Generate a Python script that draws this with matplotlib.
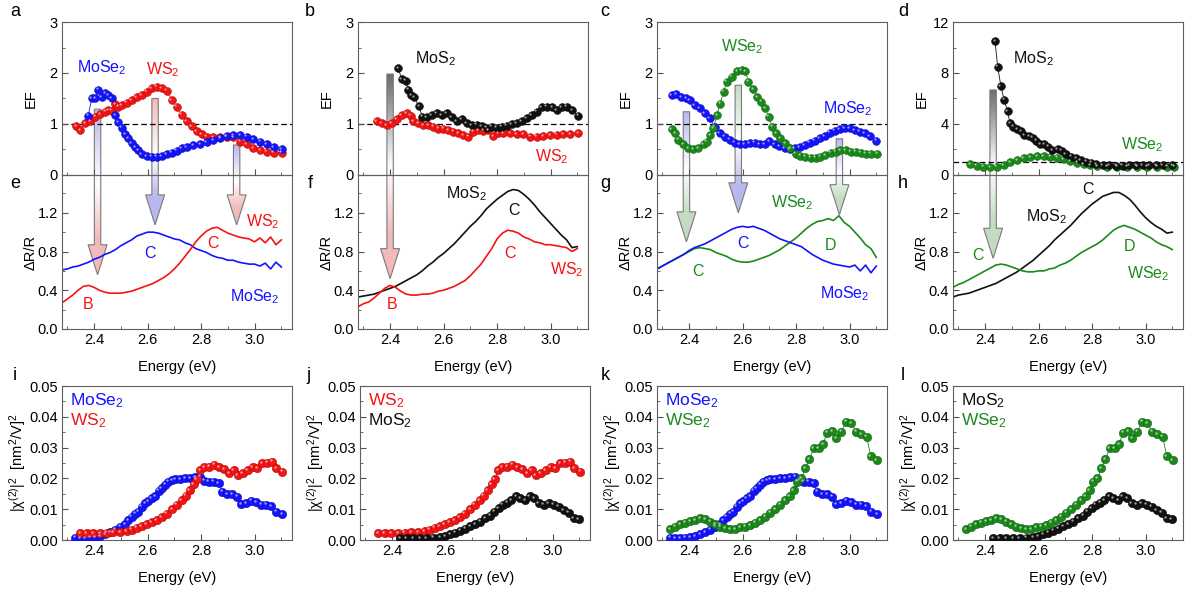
import numpy as np
import matplotlib
matplotlib.use('Agg')
import matplotlib.pyplot as plt
from matplotlib.patches import Polygon
from matplotlib.colors import LinearSegmentedColormap, to_rgb
from matplotlib.ticker import MultipleLocator, FormatStrFormatter
from matplotlib import transforms

plt.rcParams.update({
    'font.family': 'Liberation Sans',
    'mathtext.fontset': 'custom',
    'mathtext.rm': 'Liberation Sans',
    'mathtext.it': 'Liberation Sans:italic',
    'mathtext.default': 'regular',
})

# ---------------- data ----------------
# reflectance spectra share one energy grid
E_REFL = [2.28, 2.30, 2.32, 2.34, 2.36, 2.38, 2.40, 2.42, 2.44, 2.46,
          2.48, 2.50, 2.52, 2.54, 2.56, 2.58, 2.60, 2.62, 2.64, 2.66,
          2.68, 2.70, 2.72, 2.74, 2.76, 2.78, 2.80, 2.82, 2.84, 2.86,
          2.88, 2.90, 2.92, 2.94, 2.96, 2.98, 3.00, 3.02, 3.04, 3.06,
          3.08, 3.10]

dr_e_mose2 = [0.61, 0.62, 0.64, 0.65, 0.67, 0.69, 0.72, 0.74, 0.77, 0.79,
              0.82, 0.86, 0.89, 0.92, 0.96, 0.98, 1.00, 1.00, 0.99, 0.97,
              0.95, 0.93, 0.92, 0.89, 0.87, 0.83, 0.81, 0.79, 0.76, 0.74,
              0.73, 0.71, 0.71, 0.69, 0.68, 0.67, 0.67, 0.65, 0.68, 0.62,
              0.69, 0.64]
dr_e_ws2 = [0.27, 0.31, 0.35, 0.40, 0.44, 0.45, 0.43, 0.40, 0.38, 0.37,
            0.37, 0.37, 0.38, 0.39, 0.41, 0.43, 0.45, 0.47, 0.50, 0.53,
            0.57, 0.62, 0.68, 0.75, 0.82, 0.90, 0.96, 1.01, 1.04, 1.05,
            1.02, 0.99, 0.97, 0.95, 0.94, 0.93, 0.90, 0.94, 0.89, 0.95,
            0.87, 0.92]
dr_f_mos2 = [0.33, 0.34, 0.35, 0.36, 0.38, 0.40, 0.42, 0.44, 0.47, 0.50,
             0.53, 0.56, 0.60, 0.65, 0.69, 0.74, 0.78, 0.83, 0.88, 0.94,
             1.00, 1.06, 1.11, 1.17, 1.24, 1.29, 1.34, 1.38, 1.42, 1.44,
             1.43, 1.39, 1.34, 1.28, 1.21, 1.15, 1.09, 1.03, 0.97, 0.92,
             0.84, 0.85]
dr_f_ws2 = [0.23, 0.26, 0.28, 0.32, 0.37, 0.42, 0.45, 0.43, 0.39, 0.36,
            0.35, 0.35, 0.36, 0.36, 0.37, 0.39, 0.40, 0.42, 0.44, 0.47,
            0.50, 0.55, 0.61, 0.67, 0.75, 0.83, 0.93, 0.99, 1.02, 1.01,
            0.99, 0.95, 0.93, 0.90, 0.89, 0.87, 0.87, 0.86, 0.85, 0.84,
            0.80, 0.83]
dr_g_mose2 = [0.62, 0.65, 0.68, 0.71, 0.74, 0.77, 0.81, 0.84, 0.86, 0.88,
              0.91, 0.94, 0.97, 1.00, 1.03, 1.05, 1.06, 1.05, 1.06, 1.04,
              1.02, 0.99, 0.96, 0.93, 0.91, 0.89, 0.87, 0.85, 0.81, 0.77,
              0.74, 0.71, 0.69, 0.67, 0.66, 0.65, 0.64, 0.66, 0.60, 0.66,
              0.58, 0.65]
dr_g_wse2 = [0.62, 0.65, 0.68, 0.71, 0.74, 0.77, 0.80, 0.83, 0.84, 0.83,
             0.82, 0.79, 0.77, 0.75, 0.72, 0.70, 0.69, 0.69, 0.70, 0.72,
             0.74, 0.76, 0.79, 0.82, 0.86, 0.90, 0.94, 0.99, 1.04, 1.08,
             1.11, 1.12, 1.14, 1.12, 1.17, 1.10, 1.06, 1.00, 0.94, 0.87,
             0.83, 0.74]
dr_h_mos2 = [0.33, 0.35, 0.36, 0.37, 0.39, 0.41, 0.43, 0.45, 0.47, 0.50,
             0.53, 0.56, 0.59, 0.63, 0.67, 0.71, 0.76, 0.81, 0.86, 0.92,
             0.97, 1.02, 1.07, 1.13, 1.19, 1.24, 1.29, 1.33, 1.37, 1.39,
             1.41, 1.41, 1.38, 1.34, 1.28, 1.21, 1.15, 1.10, 1.06, 1.03,
             0.99, 1.00]
dr_h_wse2 = [0.43, 0.46, 0.48, 0.51, 0.54, 0.57, 0.60, 0.63, 0.66, 0.67,
             0.66, 0.64, 0.62, 0.60, 0.59, 0.59, 0.60, 0.60, 0.62, 0.63,
             0.66, 0.68, 0.71, 0.75, 0.79, 0.82, 0.85, 0.88, 0.92, 0.97,
             1.02, 1.05, 1.07, 1.05, 1.03, 1.00, 0.97, 0.94, 0.90, 0.87,
             0.85, 0.82]

# enhancement factors
ef_a_mose2_x = [2.378, 2.391, 2.403, 2.416, 2.428, 2.441, 2.453, 2.466, 2.478, 2.491,
                2.503, 2.516, 2.528, 2.541, 2.553, 2.566, 2.578, 2.597, 2.615, 2.634,
                2.653, 2.672, 2.690, 2.709, 2.728, 2.746, 2.771, 2.796, 2.821, 2.846,
                2.871, 2.896, 2.921, 2.946, 2.971, 2.995, 3.020, 3.046, 3.071, 3.102]
ef_a_mose2 = [1.16, 1.50, 1.51, 1.67, 1.52, 1.60, 1.56, 1.50, 1.17, 1.03,
              0.93, 0.80, 0.72, 0.62, 0.55, 0.49, 0.41, 0.37, 0.36, 0.36,
              0.37, 0.41, 0.44, 0.48, 0.52, 0.55, 0.58, 0.61, 0.64, 0.68,
              0.72, 0.76, 0.78, 0.78, 0.75, 0.70, 0.65, 0.60, 0.55, 0.50]
ef_a_ws2_x = [2.332, 2.347, 2.366, 2.385, 2.403, 2.422, 2.441, 2.453, 2.466, 2.478,
              2.491, 2.503, 2.522, 2.541, 2.559, 2.578, 2.597, 2.615, 2.634, 2.653,
              2.672, 2.690, 2.709, 2.728, 2.746, 2.765, 2.784, 2.802, 2.821, 2.846,
              2.871, 2.896, 2.921, 2.946, 2.971, 2.995, 3.020, 3.046, 3.071, 3.102]
ef_a_ws2 = [0.96, 0.88, 1.01, 1.06, 1.14, 1.19, 1.24, 1.27, 1.26, 1.39,
            1.34, 1.37, 1.42, 1.47, 1.52, 1.57, 1.63, 1.70, 1.73, 1.70,
            1.65, 1.47, 1.34, 1.18, 1.06, 0.96, 0.86, 0.80, 0.75, 0.74,
            0.74, 0.75, 0.74, 0.65, 0.60, 0.53, 0.49, 0.46, 0.44, 0.44]

ef_b_mos2_x = [2.431, 2.443, 2.458, 2.468, 2.480, 2.490, 2.508, 2.520, 2.537, 2.555,
               2.574, 2.593, 2.611, 2.630, 2.649, 2.668, 2.686, 2.705, 2.724, 2.742,
               2.761, 2.780, 2.798, 2.817, 2.836, 2.855, 2.874, 2.892, 2.911, 2.930,
               2.948, 2.967, 2.986, 3.005, 3.023, 3.042, 3.061, 3.080, 3.104]
ef_b_mos2 = [2.09, 1.88, 1.85, 1.67, 1.57, 1.52, 1.35, 1.14, 1.13, 1.17,
             1.21, 1.17, 1.21, 1.13, 1.06, 1.09, 1.02, 0.98, 0.99, 0.96,
             0.93, 0.95, 0.93, 0.95, 0.97, 1.00, 1.02, 1.06, 1.11, 1.17,
             1.24, 1.33, 1.34, 1.33, 1.27, 1.33, 1.34, 1.27, 1.16]
ef_b_ws2_x = [2.350, 2.369, 2.387, 2.406, 2.424, 2.443, 2.462, 2.477, 2.487, 2.506,
              2.524, 2.543, 2.562, 2.580, 2.599, 2.618, 2.637, 2.655, 2.674, 2.693,
              2.711, 2.730, 2.749, 2.767, 2.786, 2.805, 2.823, 2.848, 2.874, 2.898,
              2.923, 2.948, 2.973, 2.998, 3.023, 3.048, 3.073, 3.104]
ef_b_ws2 = [1.06, 1.02, 0.98, 1.01, 1.09, 1.17, 1.21, 1.16, 1.06, 1.01,
            0.98, 0.98, 0.95, 0.91, 0.91, 0.88, 0.85, 0.82, 0.78, 0.75,
            0.85, 0.88, 0.87, 0.88, 0.76, 0.82, 0.82, 0.82, 0.80, 0.80,
            0.75, 0.75, 0.76, 0.78, 0.79, 0.80, 0.80, 0.82]

ef_c_mose2_x = [2.335, 2.352, 2.371, 2.390, 2.402, 2.421, 2.440, 2.458, 2.477, 2.496,
                2.514, 2.533, 2.552, 2.570, 2.589, 2.608, 2.626, 2.645, 2.664, 2.682,
                2.700, 2.720, 2.738, 2.757, 2.776, 2.795, 2.813, 2.832, 2.851, 2.870,
                2.888, 2.907, 2.926, 2.944, 2.963, 2.982, 3.000, 3.019, 3.038, 3.056,
                3.075, 3.100]
ef_c_mose2 = [1.57, 1.58, 1.53, 1.51, 1.47, 1.37, 1.31, 1.21, 1.11, 0.95,
              0.82, 0.75, 0.69, 0.63, 0.61, 0.61, 0.62, 0.63, 0.61, 0.61,
              0.66, 0.61, 0.57, 0.52, 0.50, 0.52, 0.55, 0.59, 0.63, 0.67,
              0.72, 0.76, 0.83, 0.87, 0.90, 0.92, 0.92, 0.88, 0.85, 0.82,
              0.76, 0.67]
ef_c_wse2_x = [2.335, 2.347, 2.360, 2.379, 2.397, 2.416, 2.435, 2.454, 2.466, 2.479,
               2.491, 2.504, 2.516, 2.529, 2.541, 2.560, 2.579, 2.597, 2.610, 2.622,
               2.639, 2.654, 2.669, 2.685, 2.698, 2.710, 2.725, 2.741, 2.760, 2.779,
               2.798, 2.816, 2.835, 2.854, 2.873, 2.891, 2.910, 2.929, 2.948, 2.966,
               2.985, 3.004, 3.023, 3.041, 3.060, 3.079, 3.104]
ef_c_wse2 = [0.90, 0.82, 0.69, 0.61, 0.53, 0.51, 0.53, 0.61, 0.65, 0.78,
             0.92, 1.17, 1.40, 1.63, 1.83, 1.93, 2.03, 2.06, 2.04, 1.83,
             1.68, 1.53, 1.44, 1.31, 1.14, 0.95, 0.82, 0.72, 0.62, 0.52,
             0.42, 0.38, 0.36, 0.34, 0.34, 0.36, 0.39, 0.44, 0.46, 0.49,
             0.49, 0.46, 0.46, 0.44, 0.42, 0.42, 0.42]

ef_d_mos2_x = [2.437, 2.447, 2.459, 2.471, 2.484, 2.493, 2.505, 2.521, 2.534, 2.546,
               2.565, 2.578, 2.590, 2.605, 2.621, 2.637, 2.652, 2.671, 2.687, 2.702,
               2.721, 2.740, 2.758, 2.777, 2.796, 2.815, 2.840, 2.865, 2.890, 2.915,
               2.939, 2.964, 2.989, 3.014, 3.039, 3.064, 3.100]
ef_d_mos2 = [10.5, 8.5, 6.98, 5.9, 5.02, 4.05, 3.8, 3.58, 3.45, 3.13,
             3.06, 2.92, 2.69, 2.43, 2.43, 2.22, 1.96, 2.01, 1.90, 1.65,
             1.44, 1.31, 1.18, 1.05, 0.97, 0.86, 0.78, 0.78, 0.73, 0.73,
             0.78, 0.78, 0.78, 0.78, 0.78, 0.78, 0.78]
ef_d_wse2_x = [2.344, 2.369, 2.394, 2.419, 2.444, 2.470, 2.494, 2.519, 2.544, 2.569,
               2.594, 2.619, 2.644, 2.669, 2.694, 2.719, 2.744, 2.769, 2.794, 2.819,
               2.856, 2.894, 2.931, 2.968, 3.006, 3.043, 3.081, 3.106]
ef_d_wse2 = [0.86, 0.73, 0.65, 0.60, 0.65, 0.78, 0.99, 1.18, 1.31, 1.39,
             1.49, 1.49, 1.44, 1.36, 1.23, 1.10, 0.97, 0.86, 0.78, 0.71,
             0.65, 0.65, 0.65, 0.65, 0.65, 0.65, 0.65, 0.65]

# |chi(2)|^2 spectra
chi_mose2_x = [2.329, 2.347, 2.366, 2.385, 2.403, 2.422, 2.441, 2.460, 2.478, 2.497,
               2.516, 2.528, 2.541, 2.553, 2.566, 2.578, 2.591, 2.603, 2.616, 2.628,
               2.641, 2.653, 2.666, 2.678, 2.691, 2.703, 2.722, 2.741, 2.759, 2.778,
               2.797, 2.812, 2.828, 2.847, 2.866, 2.878, 2.897, 2.916, 2.934, 2.949,
               2.968, 2.987, 3.006, 3.024, 3.043, 3.062, 3.081, 3.103]
chi_mose2 = [0.0008, 0.0006, 0.0006, 0.0008, 0.0009, 0.0013, 0.0019, 0.0025, 0.0034, 0.0043,
             0.0052, 0.0065, 0.0076, 0.0086, 0.0092, 0.0108, 0.0119, 0.0126, 0.0135, 0.0143,
             0.0160, 0.0168, 0.0179, 0.0189, 0.0195, 0.0197, 0.0197, 0.0200, 0.0200, 0.0204,
             0.0206, 0.0193, 0.0189, 0.0189, 0.0184, 0.0157, 0.0149, 0.0148, 0.0140, 0.0117,
             0.0119, 0.0128, 0.0122, 0.0114, 0.0114, 0.0110, 0.0092, 0.0084]
chi_ws2_x = [2.347, 2.372, 2.397, 2.422, 2.447, 2.472, 2.497, 2.522, 2.541, 2.559,
             2.578, 2.597, 2.616, 2.634, 2.653, 2.672, 2.691, 2.709, 2.728, 2.743,
             2.757, 2.772, 2.784, 2.797, 2.812, 2.831, 2.849, 2.868, 2.887, 2.906,
             2.922, 2.937, 2.956, 2.974, 2.993, 3.010, 3.028, 3.047, 3.066, 3.082,
             3.103]
chi_ws2 = [0.0022, 0.0022, 0.0022, 0.0022, 0.0024, 0.0025, 0.0026, 0.0029, 0.0034, 0.0040,
           0.0045, 0.0052, 0.0057, 0.0065, 0.0074, 0.0086, 0.0100, 0.0114, 0.0130, 0.0144,
           0.0162, 0.0182, 0.0197, 0.0227, 0.0236, 0.0238, 0.0244, 0.0236, 0.0230, 0.0217,
           0.0227, 0.0211, 0.0217, 0.0227, 0.0236, 0.0233, 0.0249, 0.0251, 0.0254, 0.0233,
           0.0222]
chi_mos2_x = [2.430, 2.455, 2.480, 2.505, 2.530, 2.555, 2.580, 2.599, 2.618, 2.636,
              2.655, 2.674, 2.693, 2.711, 2.730, 2.749, 2.767, 2.782, 2.798, 2.813,
              2.830, 2.845, 2.863, 2.880, 2.898, 2.914, 2.932, 2.948, 2.967, 2.986,
              3.004, 3.023, 3.042, 3.060, 3.079, 3.098]
chi_mos2 = [0.0005, 0.0005, 0.0005, 0.0005, 0.0006, 0.0007, 0.0010, 0.0013, 0.0019, 0.0024,
            0.0030, 0.0037, 0.0045, 0.0052, 0.0060, 0.0070, 0.0079, 0.0092, 0.0103, 0.0114,
            0.0121, 0.0130, 0.0143, 0.0135, 0.0130, 0.0143, 0.0135, 0.0119, 0.0114, 0.0119,
            0.0114, 0.0108, 0.0097, 0.0089, 0.0070, 0.0067]
chi_wse2_x = [2.329, 2.347, 2.366, 2.385, 2.404, 2.422, 2.441, 2.460, 2.479, 2.497,
              2.516, 2.535, 2.554, 2.572, 2.591, 2.610, 2.629, 2.647, 2.666, 2.685,
              2.704, 2.722, 2.741, 2.760, 2.776, 2.791, 2.804, 2.820, 2.835, 2.850,
              2.866, 2.885, 2.901, 2.916, 2.935, 2.951, 2.969, 2.988, 3.006, 3.025,
              3.044, 3.064, 3.079, 3.101]
chi_wse2 = [0.0035, 0.0043, 0.0051, 0.0056, 0.0062, 0.0065, 0.0070, 0.0067, 0.0059, 0.0052,
            0.0043, 0.0038, 0.0036, 0.0035, 0.0041, 0.0043, 0.0049, 0.0056, 0.0065, 0.0076,
            0.0089, 0.0100, 0.0114, 0.0130, 0.0143, 0.0162, 0.0189, 0.0200, 0.0233, 0.0262,
            0.0298, 0.0298, 0.0312, 0.0348, 0.0354, 0.0330, 0.0352, 0.0384, 0.0379, 0.0352,
            0.0343, 0.0336, 0.0273, 0.0260]

BLUE = '#1414ff'
RED = '#f51414'
GREEN = '#1b8a1b'
BLACK = '#111111'
PALE_BLUE = '#b8b8ee'
PALE_RED = '#f2baba'
PALE_GREEN = '#c2dcc2'
GRAY = '#6a6a6a'

# ---------------- figure ----------------
W, H = 1190, 594
fig = plt.figure(figsize=(W / 100, H / 100), dpi=100)
fig.patch.set_facecolor('white')


def px_axes(left, top, width, height):
    ax = fig.add_axes([left / W, 1 - (top + height) / H, width / W, height / H], zorder=1)
    ax.set_facecolor('none')
    for s in ax.spines.values():
        s.set_color('#606060')
        s.set_linewidth(0.8)
    ax.tick_params(which='both', direction='in', color='#505050', labelsize=10.5, pad=3)
    ax.tick_params(which='major', length=4, width=0.8)
    ax.tick_params(which='minor', length=2, width=0.6)
    ax.set_xlim(2.28, 3.14)
    ax.xaxis.set_major_locator(MultipleLocator(0.2))
    ax.xaxis.set_minor_locator(MultipleLocator(0.1))
    ax.xaxis.set_major_formatter(FormatStrFormatter('%.1f'))
    return ax


def mix(c, other, t):
    a, b = np.array(to_rgb(c)), np.array(to_rgb(other))
    return tuple(a * (1 - t) + b * t)


def balls(ax, x, y, color, ms=5.6):
    # shaded spheres: solid disc plus a small offset highlight
    ax.plot(x, y, '-', color=color, lw=0.6, zorder=2)
    ax.plot(x, y, 'o', ms=ms, mfc=color, mec=mix(color, 'black', 0.3), mew=0.4, zorder=3)
    hl = transforms.offset_copy(ax.transData, fig=fig, x=-1.0, y=1.0, units='points')
    ax.plot(x, y, 'o', ms=ms * 0.28, mfc=mix(color, 'white', 0.6), mec='none',
            transform=hl, zorder=4)


lefts = [62, 358, 657, 953]
lefts_bot = [62, 360, 657, 953]
ax_ef = [px_axes(l, 22, 230, 153) for l in lefts]
ax_dr = [px_axes(l, 175, 230, 154) for l in lefts]
ax_chi = [px_axes(l, 386, 230, 154) for l in lefts_bot]

for i, ax in enumerate(ax_ef):
    ax.tick_params(labelbottom=False)
    if i < 3:
        ax.set_ylim(0, 3)
        ax.yaxis.set_major_locator(MultipleLocator(1))
        ax.yaxis.set_minor_locator(MultipleLocator(0.5))
    else:
        ax.set_ylim(0, 12)
        ax.yaxis.set_major_locator(MultipleLocator(4))
        ax.yaxis.set_minor_locator(MultipleLocator(2))
    ax.axhline(1, color='black', lw=0.9, dashes=(4.5, 2.5), zorder=1.5)
    ax.set_ylabel('EF', fontsize=10.5)
    ax.yaxis.set_label_coords(-0.105, 0.5)

for ax in ax_dr:
    ax.set_ylim(0, 1.59)
    ax.yaxis.set_major_locator(MultipleLocator(0.4))
    ax.yaxis.set_minor_locator(MultipleLocator(0.2))
    ax.yaxis.set_major_formatter(FormatStrFormatter('%.1f'))
    ax.set_ylabel('ΔR/R', fontsize=10.5)
    ax.yaxis.set_label_coords(-0.105, 0.5)
    ax.set_xlabel('Energy (eV)', fontsize=10.5)
    ax.xaxis.set_label_coords(0.5, -0.2)

for ax in ax_chi:
    ax.set_ylim(0, 0.05)
    ax.yaxis.set_major_locator(MultipleLocator(0.01))
    ax.yaxis.set_minor_locator(MultipleLocator(0.005))
    ax.yaxis.set_major_formatter(FormatStrFormatter('%.2f'))
    ax.set_ylabel(r'$|\chi^{(2)}|^2$  [nm$^2$/V]$^2$', fontsize=10.5)
    ax.yaxis.set_label_coords(-0.148, 0.5)
    ax.set_xlabel('Energy (eV)', fontsize=10.5)
    ax.xaxis.set_label_coords(0.5, -0.2)

# ---- EF panels ----
balls(ax_ef[0], ef_a_ws2_x, ef_a_ws2, RED)
balls(ax_ef[0], ef_a_mose2_x, ef_a_mose2, BLUE)
balls(ax_ef[1], ef_b_ws2_x, ef_b_ws2, RED)
balls(ax_ef[1], ef_b_mos2_x, ef_b_mos2, BLACK)
balls(ax_ef[2], ef_c_mose2_x, ef_c_mose2, BLUE)
balls(ax_ef[2], ef_c_wse2_x, ef_c_wse2, GREEN)
balls(ax_ef[3], ef_d_wse2_x, ef_d_wse2, GREEN)
balls(ax_ef[3], ef_d_mos2_x, ef_d_mos2, BLACK)

fs = 11.5
ax_ef[0].text(2.43, 2.1, 'MoSe$_2$', color=BLUE, fontsize=fs, ha='center', va='center')
ax_ef[0].text(2.658, 2.06, 'WS$_2$', color=RED, fontsize=fs, ha='center', va='center')
ax_ef[1].text(2.568, 2.29, 'MoS$_2$', color=BLACK, fontsize=fs, ha='center', va='center')
ax_ef[1].text(3.004, 0.36, 'WS$_2$', color=RED, fontsize=fs, ha='center', va='center')
ax_ef[2].text(2.597, 2.52, 'WSe$_2$', color=GREEN, fontsize=fs, ha='center', va='center')
ax_ef[2].text(2.995, 1.31, 'MoSe$_2$', color=BLUE, fontsize=fs, ha='center', va='center')
ax_ef[3].text(2.58, 9.15, 'MoS$_2$', color=BLACK, fontsize=fs, ha='center', va='center')
ax_ef[3].text(2.986, 2.35, 'WSe$_2$', color=GREEN, fontsize=fs, ha='center', va='center')

# ---- reflectance panels ----
ax_dr[0].plot(E_REFL, dr_e_mose2, color=BLUE, lw=1.2)
ax_dr[0].plot(E_REFL, dr_e_ws2, color=RED, lw=1.2)
ax_dr[1].plot(E_REFL, dr_f_mos2, color=BLACK, lw=1.2)
ax_dr[1].plot(E_REFL, dr_f_ws2, color=RED, lw=1.2)
ax_dr[2].plot(E_REFL, dr_g_wse2, color=GREEN, lw=1.2)
ax_dr[2].plot(E_REFL, dr_g_mose2, color=BLUE, lw=1.2)
ax_dr[3].plot(E_REFL, dr_h_mos2, color=BLACK, lw=1.2)
ax_dr[3].plot(E_REFL, dr_h_wse2, color=GREEN, lw=1.2)

labels_dr = [
    (0, 3.032, 1.11, 'WS$_2$', RED), (0, 2.846, 0.886, 'C', RED), (0, 2.609, 0.78, 'C', BLUE),
    (0, 2.378, 0.25, 'B', RED), (0, 3.002, 0.33, 'MoSe$_2$', BLUE),
    (1, 2.686, 1.40, 'MoS$_2$', BLACK), (1, 2.863, 1.22, 'C', BLACK), (1, 2.848, 0.78, 'C', RED),
    (1, 3.06, 0.61, 'WS$_2$', RED), (1, 2.406, 0.25, 'B', RED),
    (2, 2.784, 1.30, 'WSe$_2$', GREEN), (2, 2.60, 0.88, 'C', BLUE), (2, 2.434, 0.59, 'C', GREEN),
    (2, 2.93, 0.86, 'D', GREEN), (2, 2.983, 0.37, 'MoSe$_2$', BLUE),
    (3, 2.786, 1.44, 'C', BLACK), (3, 2.63, 1.16, 'MoS$_2$', BLACK), (3, 2.375, 0.755, 'C', GREEN),
    (3, 2.94, 0.85, 'D', GREEN), (3, 3.01, 0.57, 'WSe$_2$', GREEN),
]
for k, x, y, s, c in labels_dr:
    ax_dr[k].text(x, y, s, color=c, fontsize=fs, ha='center', va='center')

# ---- chi(2) panels ----
chi_sets = [
    [(chi_mose2_x, chi_mose2, BLUE, 'MoSe$_2$'), (chi_ws2_x, chi_ws2, RED, 'WS$_2$')],
    [(chi_ws2_x, chi_ws2, RED, 'WS$_2$'), (chi_mos2_x, chi_mos2, BLACK, 'MoS$_2$')],
    [(chi_mose2_x, chi_mose2, BLUE, 'MoSe$_2$'), (chi_wse2_x, chi_wse2, GREEN, 'WSe$_2$')],
    [(chi_mos2_x, chi_mos2, BLACK, 'MoS$_2$'), (chi_wse2_x, chi_wse2, GREEN, 'WSe$_2$')],
]
for ax, sets in zip(ax_chi, chi_sets):
    for j, (x, y, c, name) in enumerate(sets):
        balls(ax, x, y, c, ms=6.0)
        ax.text(0.035, 0.905 - j * 0.128, name, color=c, fontsize=12.5,
                transform=ax.transAxes, ha='left', va='center')

# ---- panel letters ----
letters = [('a', 15, 12), ('b', 310, 12), ('c', 605, 12), ('d', 903, 12),
           ('e', 15, 183), ('f', 310, 183), ('g', 605, 183), ('h', 903, 183),
           ('i', 15, 376), ('j', 308, 376), ('k', 605, 376), ('l', 903, 376)]
for s, x, y in letters:
    fig.text(x / W, 1 - y / H, s, fontsize=13, ha='center', va='center')

# ---- gradient arrows linking EF peaks to reflectance features ----
ov = fig.add_axes([0, 0, 1, 1], zorder=0)
ov.axis('off')


def arrow(ax_t, ax_b, x, ytop, ytip, ctop, cbot):
    x0, y0 = ax_t.transData.transform((x, ytop))
    _, y1 = ax_b.transData.transform((x, ytip))
    sw, hw, hl = 3.2, 9.5, 30
    pts = [(x0 - sw, y0), (x0 + sw, y0), (x0 + sw, y1 + hl), (x0 + hw, y1 + hl),
           (x0, y1), (x0 - hw, y1 + hl), (x0 - sw, y1 + hl)]
    cmap = LinearSegmentedColormap.from_list(
        'arr', [(0, cbot), (0.22, cbot), (0.55, 'white'), (1, ctop)])
    im = ov.imshow(np.linspace(0, 1, 256).reshape(-1, 1), cmap=cmap, origin='lower',
                   extent=[x0 - hw, x0 + hw, y1, y0], aspect='auto',
                   interpolation='bilinear', zorder=1)
    clip = Polygon(pts, closed=True, transform=ov.transData, fc='none')
    im.set_clip_path(clip)
    ov.add_patch(Polygon(pts, closed=True, fc='none', ec='#7a7a7a', lw=0.8, zorder=2))


arrow(ax_ef[0], ax_dr[0], 2.413, 1.29, 0.56, PALE_BLUE, PALE_RED)
arrow(ax_ef[0], ax_dr[0], 2.628, 1.50, 1.075, PALE_RED, PALE_BLUE)
arrow(ax_ef[0], ax_dr[0], 2.933, 0.59, 1.075, PALE_BLUE, PALE_RED)
arrow(ax_ef[1], ax_dr[1], 2.40, 1.98, 0.52, GRAY, PALE_RED)
arrow(ax_ef[2], ax_dr[2], 2.39, 1.24, 0.90, PALE_BLUE, PALE_GREEN)
arrow(ax_ef[2], ax_dr[2], 2.584, 1.76, 1.20, PALE_GREEN, PALE_BLUE)
arrow(ax_ef[2], ax_dr[2], 2.962, 0.71, 1.18, PALE_BLUE, PALE_GREEN)
arrow(ax_ef[3], ax_dr[3], 2.43, 6.67, 0.73, GRAY, PALE_GREEN)

ov.set_xlim(0, W)
ov.set_ylim(0, H)

fig.savefig('out.png', dpi=100, facecolor='white')
